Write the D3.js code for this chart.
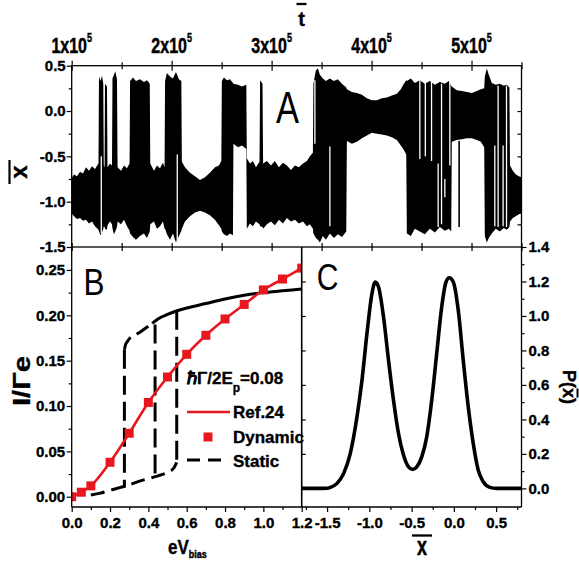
<!DOCTYPE html>
<html>
<head>
<meta charset="utf-8">
<script src="https://cdn.jsdelivr.net/npm/d3@7/dist/d3.min.js"></script>
<style>
  html, body { margin: 0; padding: 0; background: #fff; }
  svg { display: block; }
  svg text { font-family: "Liberation Sans", Arial, Helvetica, sans-serif; font-weight: bold; fill: #000;
             stroke: #000; stroke-width: 0.35px; }
  svg text.thin { font-weight: normal; stroke: none; }
</style>
</head>
<body>
<svg id="chart" width="579" height="566"></svg>
<script>
// ---------- Panel A: oscillator coordinate x̄ versus time t̄ ----------
// envelope of the fast oscillation: [t, upper, lower]
const trajectoryEnvelope = [
  [100000,-0.74,-1.13],[102300,-0.70,-1.16],[105300,-0.72,-1.19],[108300,-0.67,-1.18],
  [111300,-0.69,-1.21],[114300,-0.62,-1.20],[117300,-0.66,-1.24],[120300,-0.61,-1.22],
  [123300,-0.64,-1.27],[126800,-0.58,-1.31],
  [127300,0.38,-1.33],[128800,0.33,-1.37],[130300,0.39,-1.34],[131600,0.30,-1.30],
  [132100,-0.60,-1.27],[132900,-0.62,-1.28],
  [133300,0.30,-1.30],[135300,0.27,-1.31],
  [135800,-0.62,-1.26],[138300,-0.58,-1.22],[140300,-0.60,-1.25],
  [140800,0.36,-1.30],[142300,0.40,-1.36],[143600,0.44,-1.33],[145300,0.35,-1.28],
  [145900,-0.62,-1.22],[149300,-0.66,-1.25],[152300,-0.60,-1.20],[155300,-0.63,-1.27],[157900,-0.58,-1.32],
  [158400,0.33,-1.35],[161300,0.37,-1.39],[164300,0.33,-1.42],[168300,0.35,-1.38],
  [172300,0.32,-1.35],[175300,0.34,-1.40],[178100,0.30,-1.33],
  [178600,-0.58,-1.25],[182300,-0.66,-1.22],[185300,-0.60,-1.30],[188300,-0.63,-1.27],
  [191300,-0.57,-1.22],[192900,-0.62,-1.30],
  [193400,0.33,-1.30],[195300,0.42,-1.36],[198300,0.38,-1.42],[201300,0.36,-1.35],
  [204300,0.43,-1.45],[207300,0.35,-1.38],[209700,0.33,-1.32],
  [210200,-0.56,-1.30],[213300,-0.62,-1.22],[218300,-0.68,-1.16],[223300,-0.72,-1.12],
  [228300,-0.76,-1.10],[233300,-0.73,-1.12],[238300,-0.68,-1.15],[243300,-0.62,-1.20],
  [247300,-0.60,-1.26],[249700,-0.55,-1.30],
  [250200,0.33,-1.33],[252300,0.37,-1.36],[255300,0.34,-1.38],[258300,0.35,-1.35],[261300,0.31,-1.37],
  [261800,0.30,-0.36],[266300,0.29,-0.40],[270300,0.27,-0.38],[274700,0.29,-0.42],
  [275200,-0.52,-1.30],[278300,-0.58,-1.24],[281300,-0.55,-1.27],[284300,-0.62,-1.22],[287900,-0.56,-1.25],
  [288500,0.34,-1.27],[290900,0.30,-1.28],
  [291500,-0.58,-1.30],[295300,-0.55,-1.25],[299300,-0.60,-1.22],[303300,-0.55,-1.26],
  [307300,-0.62,-1.20],[311300,-0.57,-1.24],[315300,-0.60,-1.18],[319300,-0.65,-1.22],
  [323300,-0.60,-1.20],[327300,-0.62,-1.24],[331300,-0.58,-1.22],[335300,-0.55,-1.27],
  [338300,-0.50,-1.25],[341300,-0.46,-1.30],
  [341800,0.30,-1.35],[344300,0.45,-1.40],[346300,0.47,-1.42],[348300,0.40,-1.45],
  [351300,0.36,-1.38],[354300,0.33,-1.42],[358300,0.36,-1.35],[362300,0.33,-1.40],
  [366300,0.35,-1.36],[370300,0.30,-1.39],[374700,0.26,-1.33],
  [375300,0.24,-0.33],[380300,0.21,-0.36],[385300,0.20,-0.34],[390300,0.18,-0.30],
  [395300,0.14,-0.27],[400300,0.12,-0.24],[405300,0.12,-0.25],[410300,0.14,-0.26],
  [415300,0.15,-0.27],[420300,0.17,-0.29],[425300,0.19,-0.32],[429300,0.24,-0.38],
  [432300,0.30,-0.43],[434700,0.34,-0.48],
  [435300,0.33,-1.35],[439300,0.36,-1.38],[443300,0.31,-1.30],[448300,0.34,-1.33],
  [453300,0.30,-1.36],[458300,0.33,-1.30],[463300,0.29,-1.34],[468300,0.32,-1.28],
  [473300,0.30,-1.32],[477300,0.33,-1.30],[479700,0.28,-1.33],
  [480300,0.27,-0.34],[485300,0.23,-0.32],[490300,0.22,-0.31],[495300,0.21,-0.30],
  [500300,0.20,-0.30],[505300,0.22,-0.32],[509300,0.24,-0.34],[512700,0.25,-0.40],
  [513300,0.38,-1.38],[515300,0.47,-1.45],[517300,0.40,-1.40],[520300,0.31,-1.35],
  [524300,0.29,-1.30],[528300,0.30,-1.33],[532300,0.28,-1.29],[535300,0.29,-1.31],[537900,0.26,-1.28],
  [538500,-0.60,-1.22],[541300,-0.66,-1.18],[544300,-0.70,-1.16],[547300,-0.72,-1.14],[550000,-0.73,-1.13]
];
// thin breaks inside the trace: [t, top, bottom]
const traceGaps = [
  [129600,-0.50,-1.35],[205600,-0.48,-1.46],[343300,0.34,-0.36],[358300,-0.39,-1.27],
  [448300,0.34,-0.53],[453800,0.36,-0.50],[460000,0.33,-0.55],[466600,-0.58,-1.28],
  [470000,0.30,-1.25],[473300,-0.75,-0.95],[478300,0.32,-0.60],
  [523300,-0.38,-1.27],[526600,0.28,-1.28],[531600,-0.38,-1.27],[535000,0.28,-1.28]
];
// single excursions crossing the empty band: [t, top, bottom]
const traceStrokes = [[487600,-0.33,-1.28]];

const timeMajorTicks = [100000, 200000, 300000, 400000, 500000];
const timeMinorTicks = [150000, 250000, 350000, 450000, 550000];
const timeTickMantissa = ["1", "2", "3", "4", "5"];
const xMajorTicksA = [0.5, 0, -0.5, -1, -1.5];
const xMinorTicksA = [0.25, -0.25, -0.75, -1.25];

// ---------- Panel B: current I/Γe versus eV_bias ----------
const biasDynamic    = [0, 0.05, 0.1, 0.2, 0.3, 0.4, 0.5, 0.6, 0.7, 0.8, 0.9, 1.0, 1.1, 1.2];
const currentDynamic = [0.000, 0.005, 0.012, 0.038, 0.070, 0.104, 0.132, 0.157, 0.178, 0.196, 0.212, 0.228, 0.240, 0.252];
const biasRef24      = [0, 0.05, 0.1, 0.2, 0.3, 0.4, 0.5, 0.6, 0.7, 0.8, 0.9, 1.0, 1.1, 1.2];
const currentRef24   = [0.000, 0.005, 0.012, 0.038, 0.070, 0.104, 0.132, 0.157, 0.178, 0.196, 0.212, 0.228, 0.240, 0.252];
// static solution: stable upper branch (solid)
const biasStaticStable    = [0.42, 0.45, 0.5, 0.55, 0.6, 0.7, 0.8, 0.9, 1.0, 1.1, 1.2];
const currentStaticStable = [0.191, 0.196, 0.201, 0.205, 0.208, 0.213, 0.218, 0.222, 0.225, 0.227, 0.229];
// static solution: end of upper branch and lower branch (dashed)
const biasStaticUpper    = [0.275, 0.28, 0.29, 0.30, 0.33, 0.36, 0.40, 0.42];
const currentStaticUpper = [0.162, 0.167, 0.171, 0.174, 0.178, 0.182, 0.188, 0.191];
const biasStaticLower    = [0.10, 0.15, 0.20, 0.25, 0.30, 0.35, 0.40, 0.45, 0.50, 0.53, 0.548];
const currentStaticLower = [0.002, 0.004, 0.007, 0.010, 0.013, 0.017, 0.020, 0.023, 0.027, 0.031, 0.038];
// switching jumps (dashed verticals)
const staticJumpBias = [0.275, 0.435, 0.548];
const staticJumpLow  = [0.010, 0.021, 0.038];
const staticJumpHigh = [0.162, 0.190, 0.205];

const biasTicks       = [0, 0.2, 0.4, 0.6, 0.8, 1.0, 1.2];
const biasMinorTicks  = [0.1, 0.3, 0.5, 0.7, 0.9, 1.1];
const currentTicks    = [0, 0.05, 0.10, 0.15, 0.20, 0.25];
const currentMinorTicks = [0.025, 0.075, 0.125, 0.175, 0.225];

// ---------- Panel C: distribution P(x̄) ----------
const probX = [-1.80, -1.60, -1.50, -1.461, -1.382, -1.303, -1.225, -1.146, -1.087, -1.028, -0.969, -0.930,
               -0.891, -0.832, -0.773, -0.714, -0.655, -0.596, -0.537, -0.486, -0.439, -0.380, -0.321, -0.262,
               -0.203, -0.144, -0.093, -0.054, -0.007, 0.052, 0.111, 0.170, 0.229, 0.288, 0.347, 0.426, 0.505, 0.60, 0.80];
const probP = [0, 0, 0.001, 0.006, 0.029, 0.087, 0.203, 0.415, 0.627, 0.898, 1.130, 1.197,
               1.168, 0.994, 0.743, 0.511, 0.318, 0.193, 0.125, 0.110, 0.125, 0.183, 0.299, 0.511,
               0.782, 1.052, 1.197, 1.222, 1.197, 1.033, 0.743, 0.473, 0.261, 0.106, 0.039, 0.006, 0, 0, 0];
const probXTicks      = [-1.5, -1.0, -0.5, 0, 0.5];
const probXMinorTicks = [-1.75, -1.25, -0.75, -0.25, 0.25, 0.75];
const probPTicks      = [0, 0.2, 0.4, 0.6, 0.8, 1.0, 1.2, 1.4];
const probPMinorTicks = [0.1, 0.3, 0.5, 0.7, 0.9, 1.1, 1.3];

// ---------- layout and scales ----------
const svg = d3.select("#chart");
const red = "#e8171f";

const A = {left: 71.7, right: 521.5, top: 65.7, bottom: 247};
const B = {left: 71.7, right: 301.7, top: 247, bottom: 507};
const C = {left: 301.7, right: 521.5, top: 247, bottom: 507};

const xA = d3.scaleLinear().domain([100000, 550000]).range([A.left, A.right]);
const yA = d3.scaleLinear().domain([-1.5, 0.5]).range([A.bottom, A.top]);
const xB = d3.scaleLinear().domain([0, 1.2]).range([B.left, B.right]);
const yB = d3.scaleLinear().domain([-0.0113, 0.2753]).range([B.bottom, B.top]);
const xC = d3.scaleLinear().domain([-1.8, 0.8]).range([C.left, C.right]);
const yC = d3.scaleLinear().domain([-0.108, 1.4]).range([C.bottom, C.top]);

const defs = svg.append("defs");
[["clipA", A], ["clipB", B], ["clipC", C]].forEach(([id, r]) => {
  defs.append("clipPath").attr("id", id).append("rect")
    .attr("x", r.left).attr("y", r.top)
    .attr("width", r.right - r.left).attr("height", r.bottom - r.top);
});

// ---------- Panel A marks ----------
const gA = svg.append("g").attr("clip-path", "url(#clipA)");
gA.append("path").datum(trajectoryEnvelope)
  .attr("fill", "#000")
  .attr("d", d3.area().x(d => xA(d[0])).y0(d => yA(d[2])).y1(d => yA(d[1])));
gA.append("g").selectAll("line").data(traceGaps).join("line")
  .attr("x1", d => xA(d[0])).attr("x2", d => xA(d[0]))
  .attr("y1", d => yA(d[1])).attr("y2", d => yA(d[2]))
  .attr("stroke", "#fff").attr("stroke-width", 1.3);
gA.append("g").selectAll("line").data(traceStrokes).join("line")
  .attr("x1", d => xA(d[0])).attr("x2", d => xA(d[0]))
  .attr("y1", d => yA(d[1])).attr("y2", d => yA(d[2]))
  .attr("stroke", "#000").attr("stroke-width", 1.6);

// ---------- Panel B marks ----------
const gB = svg.append("g").attr("clip-path", "url(#clipB)");
const lineB = d3.line().x(d => xB(d[0])).y(d => yB(d[1]));
gB.append("path").datum(d3.zip(biasStaticStable, currentStaticStable))
  .attr("fill", "none").attr("stroke", "#000").attr("stroke-width", 3)
  .attr("d", lineB.curve(d3.curveMonotoneX));
gB.append("path").datum(d3.zip(biasStaticUpper, currentStaticUpper))
  .attr("fill", "none").attr("stroke", "#000").attr("stroke-width", 3)
  .attr("stroke-dasharray", "14,7").attr("d", lineB.curve(d3.curveMonotoneX));
gB.append("path").datum(d3.zip(biasStaticLower, currentStaticLower))
  .attr("fill", "none").attr("stroke", "#000").attr("stroke-width", 3)
  .attr("stroke-dasharray", "14,7").attr("d", lineB.curve(d3.curveMonotoneX));
gB.append("g").selectAll("line").data(d3.zip(staticJumpBias, staticJumpLow, staticJumpHigh)).join("line")
  .attr("x1", d => xB(d[0])).attr("x2", d => xB(d[0]))
  .attr("y1", d => yB(d[2])).attr("y2", d => yB(d[1]))
  .attr("stroke", "#000").attr("stroke-width", 3).attr("stroke-dasharray", "19,7");

gB.append("path").datum(d3.zip(biasRef24, currentRef24))
  .attr("fill", "none").attr("stroke", red).attr("stroke-width", 2.6)
  .attr("d", d3.line().x(d => xB(d[0])).y(d => yB(d[1])).curve(d3.curveMonotoneX));
gB.append("g").selectAll("rect").data(d3.zip(biasDynamic, currentDynamic)).join("rect")
  .attr("x", d => xB(d[0]) - 4.5).attr("y", d => yB(d[1]) - 4.5)
  .attr("width", 9).attr("height", 9).attr("fill", red);

// ---------- Panel C marks ----------
const gC = svg.append("g").attr("clip-path", "url(#clipC)");
gC.append("path").datum(d3.zip(probX, probP))
  .attr("fill", "none").attr("stroke", "#000").attr("stroke-width", 3.6)
  .attr("stroke-linejoin", "round")
  .attr("d", d3.line().x(d => xC(d[0])).y(d => yC(d[1])).curve(d3.curveMonotoneX));

// ---------- frames ----------
const frame = svg.append("g").attr("fill", "none").attr("stroke", "#000").attr("stroke-width", 1.3);
frame.append("rect").attr("x", A.left).attr("y", A.top).attr("width", A.right - A.left).attr("height", A.bottom - A.top);
frame.append("line").attr("x1", B.left).attr("x2", B.left).attr("y1", B.top).attr("y2", B.bottom);
frame.append("line").attr("x1", B.left).attr("x2", C.right).attr("y1", B.bottom).attr("y2", B.bottom);
frame.append("line").attr("x1", C.right).attr("x2", C.right).attr("y1", C.top).attr("y2", C.bottom);
frame.append("line").attr("x1", C.left).attr("x2", C.left).attr("y1", C.top).attr("y2", C.bottom).attr("stroke-width", 1.6);

// ---------- axes ----------
function axis(gen, tx, ty, values, size, pad, fmt) {
  const g = svg.append("g").attr("transform", `translate(${tx},${ty})`)
    .call(gen.tickValues(values).tickSize(size).tickPadding(pad).tickFormat(fmt || (() => "")));
  g.select(".domain").remove();
  g.attr("font-family", null).attr("font-size", 15);
  g.selectAll("line").attr("stroke", "#000").attr("stroke-width", 1.2);
  return g;
}
const f1 = d => d.toFixed(1);
const f2 = d => d.toFixed(2);

// A: left, right, top (crossing ticks), bottom (crossing ticks)
axis(d3.axisLeft(yA), A.left, 0, xMajorTicksA, 5, 1, f1);
axis(d3.axisLeft(yA), A.left, 0, xMinorTicksA, 3, 1);
axis(d3.axisLeft(yA), A.right, 0, [0.25, 0, -0.25, -0.5, -0.75, -1, -1.25], 4, 1);
axis(d3.axisTop(xA), 0, A.top, timeMajorTicks, 5, 1);
axis(d3.axisBottom(xA), 0, A.top, timeMajorTicks, 5, 1);
axis(d3.axisTop(xA), 0, A.top, timeMinorTicks, 3.5, 1);
axis(d3.axisBottom(xA), 0, A.top, timeMinorTicks, 3.5, 1);
axis(d3.axisTop(xA), 0, A.bottom, timeMajorTicks.concat(timeMinorTicks), 4, 1);
axis(d3.axisBottom(xA), 0, A.bottom, timeMajorTicks.concat(timeMinorTicks), 4, 1);

// top tick labels n×10^5
timeMajorTicks.forEach((t, i) => {
  const g = svg.append("g").attr("transform", `translate(${xA(t)},52.7) scale(1,1.33)`);
  const tx = g.append("text").attr("text-anchor", "middle").attr("font-size", 16);
  tx.append("tspan").text(timeTickMantissa[i] + "x10");
  tx.append("tspan").attr("font-size", 9).attr("dy", -8).text("5");
});

// B: left and bottom
axis(d3.axisLeft(yB), B.left, 0, currentTicks, 5, 1.5, f2);
axis(d3.axisLeft(yB), B.left, 0, currentMinorTicks, 3, 1);
axis(d3.axisBottom(xB), 0, B.bottom, biasTicks, 5, 5, f1);
axis(d3.axisBottom(xB), 0, B.bottom, biasMinorTicks, 3, 1);

// C: bottom, right, inner left ticks
axis(d3.axisBottom(xC), 0, C.bottom, probXTicks, 5, 5, f1);
axis(d3.axisBottom(xC), 0, C.bottom, probXMinorTicks, 3, 1);
axis(d3.axisRight(yC), C.right, 0, probPTicks, 5, 2, f1);
axis(d3.axisRight(yC), C.right, 0, probPMinorTicks, 3, 1);
axis(d3.axisRight(yC), C.left, 0, [0.2, 0.4, 0.6, 0.8, 1.0, 1.2], 4, 1);

// ---------- axis titles ----------
// t̄ on top
svg.append("text").attr("x", 301.5).attr("y", 26).attr("text-anchor", "middle").attr("font-size", 20).text("t");
svg.append("line").attr("x1", 296.5).attr("x2", 306.5).attr("y1", 4).attr("y2", 4).attr("stroke", "#000").attr("stroke-width", 2.3);

// x̄ for panel A (rotated)
const gxA = svg.append("g").attr("transform", "translate(27,172) rotate(-90)");
gxA.append("text").attr("text-anchor", "middle").attr("font-size", 24).text("x");
gxA.append("line").attr("x1", -12).attr("x2", 12).attr("y1", -17.5).attr("y2", -17.5)
  .attr("stroke", "#000").attr("stroke-width", 2.2);

// I/Γe for panel B
svg.append("g").attr("transform", "translate(30,381) rotate(-90) scale(1.22,1)")
  .append("text").attr("text-anchor", "middle").attr("font-size", 24).text("I/Γe");

// eV_bias
const ev = svg.append("g").attr("transform", "translate(168,554) scale(1,1.2)")
  .append("text").attr("font-size", 17);
ev.append("tspan").text("eV");
ev.append("tspan").attr("font-size", 9).attr("dy", 3).text("bias");

// x̄ under panel C
svg.append("g").attr("transform", "translate(422,555) scale(1,1.4)")
  .append("text").attr("text-anchor", "middle").attr("font-size", 18).text("x");
svg.append("line").attr("x1", 412).attr("x2", 432).attr("y1", 535.5).attr("y2", 535.5)
  .attr("stroke", "#000").attr("stroke-width", 2.3);

// P(x̄) on the right (rotated clockwise)
const gP = svg.append("g").attr("transform", "translate(563,387) rotate(90)");
const pText = gP.append("text").attr("text-anchor", "middle").attr("font-size", 18).text("P(x)");
{
  const n = pText.node();
  const L = n.getComputedTextLength();
  const s0 = n.getSubStringLength(0, 2), w = n.getSubStringLength(2, 1);
  gP.append("line").attr("x1", -L / 2 + s0 + 0.5).attr("x2", -L / 2 + s0 + w - 0.5)
    .attr("y1", -14.5).attr("y2", -14.5).attr("stroke", "#000").attr("stroke-width", 2);
}

// ---------- panel letters ----------
function letter(txt, x, y, size, sy) {
  svg.append("g").attr("transform", `translate(${x},${y}) scale(1,${sy})`)
    .append("text").attr("class", "thin").attr("font-size", size).text(txt);
}
letter("A", 276, 123.3, 34.5, 1.27);
letter("B", 83.5, 295, 31.5, 1.18);
letter("C", 316.8, 290, 30, 1.23);

// ---------- legend in panel B ----------
const lg = svg.append("g");
const title = lg.append("text").attr("x", 187).attr("y", 384).attr("font-size", 17);
title.append("tspan").text("ℏΓ/2E");
title.append("tspan").attr("font-size", 12).attr("dy", 8).text("p");
title.append("tspan").attr("dy", -8).text("=0.08");

lg.append("line").attr("x1", 187).attr("x2", 230).attr("y1", 412).attr("y2", 412)
  .attr("stroke", red).attr("stroke-width", 2.6);
lg.append("text").attr("x", 233).attr("y", 418).attr("font-size", 17).text("Ref.24");

lg.append("rect").attr("x", 208 - 4.5).attr("y", 437 - 4.5).attr("width", 9).attr("height", 9).attr("fill", red);
lg.append("text").attr("x", 233).attr("y", 443).attr("font-size", 17).text("Dynamic");

lg.append("line").attr("x1", 187).attr("x2", 222).attr("y1", 460).attr("y2", 460)
  .attr("stroke", "#000").attr("stroke-width", 3).attr("stroke-dasharray", "13,8");
lg.append("text").attr("x", 233).attr("y", 467).attr("font-size", 17).text("Static");
</script>
</body>
</html>
